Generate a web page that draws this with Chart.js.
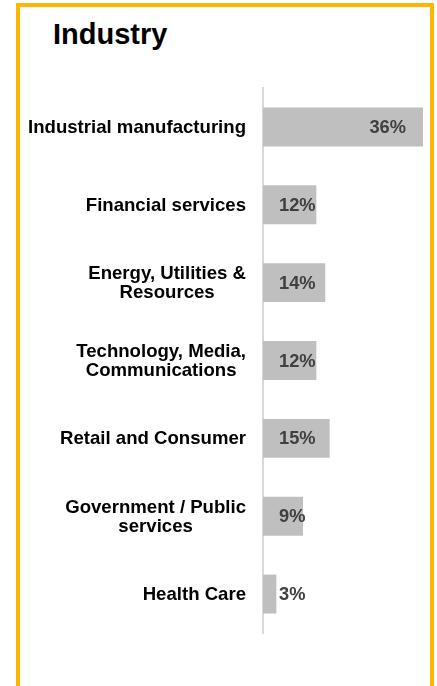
<!DOCTYPE html>
<html>
<head>
<meta charset="utf-8">
<script src="https://cdn.jsdelivr.net/npm/chart.js@4"></script>
<style>
  html, body { margin:0; padding:0; background:#fff; }
  body { width:437px; height:686px; position:relative; overflow:hidden;
         font-family:"Liberation Sans", Arial, sans-serif; }
  .frame { position:absolute; left:16px; top:3px; width:410px; height:720px;
           border:4px solid #FFB600; box-sizing:content-box; }
  .title { position:absolute; left:53px; top:20px; font-size:29px; line-height:29px;
           font-weight:bold; color:#000; }
  #chart-wrap { position:absolute; left:0; top:0; width:437px; height:686px; }
</style>
</head>
<body>
<div class="frame"></div>
<div class="title">Industry</div>
<div id="chart-wrap"><canvas id="industry-chart" width="437" height="686"></canvas></div>

<script>
/* ----------------------------------------------------------
   Data
   ---------------------------------------------------------- */
const industries = [
  'Industrial manufacturing',
  'Financial services',
  ['Energy, Utilities &', 'Resources'],
  ['Technology, Media,', 'Communications'],
  'Retail and Consumer',
  ['Government / Public', 'services'],
  'Health Care',
];
const shares = [36, 12, 14, 12, 15, 9, 3];
const xMax = 36;

const FONT = '"Liberation Sans", Arial, sans-serif';
const LABEL_GAP = 17;
const LINE_H = 19;

/* ----------------------------------------------------------
   Category labels: block right-aligned to the axis,
   lines centred within the block
   ---------------------------------------------------------- */
const categoryLabels = {
  id: 'categoryLabels',
  afterDraw(chart) {
    const { ctx } = chart;
    const y = chart.scales.y;
    const right = chart.chartArea.left - LABEL_GAP;
    ctx.save();
    ctx.font = `bold 18.6px ${FONT}`;
    ctx.fillStyle = '#000';
    ctx.textAlign = 'center';
    ctx.textBaseline = 'middle';
    industries.forEach((lab, i) => {
      const lines = Array.isArray(lab) ? lab : [lab];
      const w = Math.max(...lines.map(l => ctx.measureText(l).width));
      const cx = right - w / 2;
      const cy = y.getPixelForTick(i);
      const y0 = cy - (lines.length - 1) * LINE_H / 2;
      lines.forEach((l, k) => ctx.fillText(l, cx, y0 + k * LINE_H + 1));
    });
    ctx.restore();
  },
};

/* ----------------------------------------------------------
   Value labels: left at base, or inside the end on long bars
   ---------------------------------------------------------- */
const valueLabels = {
  id: 'valueLabels',
  afterDatasetsDraw(chart) {
    const { ctx } = chart;
    const meta = chart.getDatasetMeta(0);
    ctx.save();
    ctx.font = `bold 18.3px ${FONT}`;
    ctx.fillStyle = '#404040';
    ctx.textAlign = 'left';
    ctx.textBaseline = 'middle';
    meta.data.forEach((bar, i) => {
      const txt = shares[i] + '%';
      const w = ctx.measureText(txt).width;
      const x = Math.max(bar.base + 16, bar.x - 17 - w);
      ctx.fillText(txt, x, bar.y + 1);
    });
    ctx.restore();
  },
};

new Chart(document.getElementById('industry-chart'), {
  type: 'bar',
  data: {
    labels: industries,
    datasets: [{
      data: shares,
      backgroundColor: '#BFBFBF',
      borderWidth: 0,
      categoryPercentage: 1,
      barPercentage: 0.5,
    }],
  },
  options: {
    indexAxis: 'y',
    responsive: false,
    animation: false,
    layout: { padding: { top: 88, bottom: 53, right: 14, left: 0 } },
    plugins: { legend: { display: false }, tooltip: { enabled: false } },
    scales: {
      x: { display: false, min: 0, max: xMax },
      y: {
        afterFit: s => { s.width = 263; },
        grid: { display: false, drawTicks: false },
        border: { display: true, color: '#D9D9D9', width: 2 },
        ticks: { display: false },
      },
    },
  },
  plugins: [valueLabels, categoryLabels],
});
</script>
</body>
</html>
